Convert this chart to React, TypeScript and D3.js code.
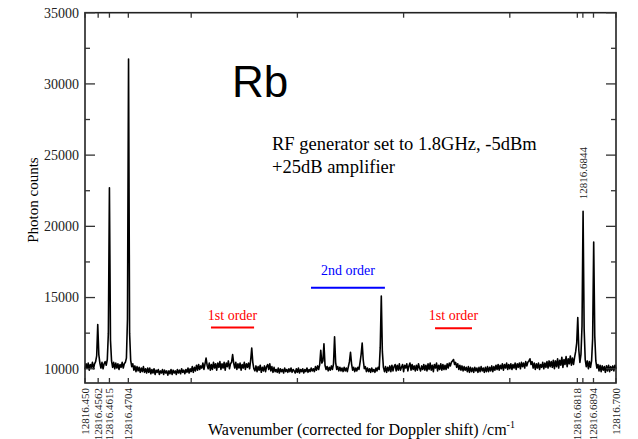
import React from "react";
import * as d3 from "d3";

const W = 638;
const H = 439;

// Wavenumber grid (cm^-1), start and sampling step of the scan
const WN_START = 12816.45;
const WN_STEP = 0.0005;

// Photon counts, one value per grid point
const counts: number[] = [
  9950, 10350, 10050, 10400, 9900, 10300, 10100, 10450, 10000, 10350, 10500, 10900, 13100, 11000, 10400, 10050, 10450, 10000, 10350, 10500,
  10250, 10650, 12500, 22700, 12000, 10550, 10100, 10450, 10000, 10400, 10050, 10350, 9950, 10300, 10100, 10450, 10050, 10350, 10450, 10750,
  13500, 31750, 12500, 10600, 10150, 10350, 9900, 10200, 9800, 10150, 9850, 10100, 9750, 10050, 9800, 10150, 9750, 10000, 9700, 10050,
  9750, 10050, 9650, 9950, 9700, 10000, 9600, 9900, 9750, 9950, 9600, 9850, 9700, 9950, 9600, 9900, 9700, 9850, 9550, 9850,
  9650, 9950, 9600, 9900, 9700, 9850, 9600, 9950, 9700, 9900, 9650, 10000, 9750, 9900, 9650, 9950, 9750, 10050, 9700, 10000,
  9800, 10150, 9750, 10100, 9850, 10250, 9900, 10300, 9950, 10200, 10050, 10400, 9950, 10350, 10750, 10250, 10000, 10400, 9900, 10300,
  9950, 10450, 10050, 10350, 9900, 10400, 10100, 10500, 9950, 10350, 10050, 10450, 9900, 10400, 10150, 10550, 10000, 10350, 10450, 11000,
  10400, 10050, 10450, 9950, 10350, 10050, 10400, 9900, 10300, 10050, 10450, 9950, 10350, 10100, 10400, 10000, 10600, 11450, 10450, 10000,
  9850, 10200, 9800, 10150, 9900, 10250, 9750, 10100, 9850, 10200, 9800, 10150, 10300, 9950, 10350, 9850, 10150, 9750, 10100, 9800,
  9950, 9750, 10050, 9700, 10000, 9800, 9950, 9700, 10050, 9800, 9950, 9750, 10000, 9800, 10050, 9750, 9950, 9850, 9700, 10000,
  9750, 10050, 9700, 9950, 9800, 10000, 9700, 9950, 9800, 10050, 9750, 9950, 9800, 10050, 9850, 10000, 9800, 10150, 9900, 10200,
  9950, 10300, 11300, 10400, 10550, 11750, 10250, 9950, 10150, 9850, 10100, 9900, 10200, 9950, 10350, 12250, 10450, 9950, 10150, 9850,
  10100, 9850, 10050, 9800, 10100, 9850, 10050, 9800, 10150, 10500, 11150, 10350, 9900, 10100, 9800, 10050, 9850, 10100, 9950, 10450,
  11000, 11800, 10600, 10000, 10150, 9800, 10050, 9800, 10000, 9750, 10050, 9800, 9950, 9750, 10050, 9850, 10100, 9950, 11500, 15100,
  11200, 10100, 9800, 10150, 9750, 10100, 9850, 10200, 9800, 10250, 9850, 10150, 10300, 9850, 10250, 9900, 10350, 9900, 10100, 10300,
  9800, 10250, 10050, 10350, 9850, 10200, 10400, 9900, 10300, 9950, 10200, 9850, 10250, 9900, 10350, 10050, 9850, 10200, 9950, 10300,
  9900, 10250, 9850, 10350, 9950, 10400, 9900, 10250, 9800, 10300, 10050, 10400, 9850, 10250, 9950, 10350, 9900, 10300, 9950, 10250,
  9950, 10350, 10050, 10400, 10200, 10450, 10550, 10650, 10300, 10450, 10100, 10350, 9950, 10250, 9900, 10200, 9850, 10150, 9900, 10100,
  9800, 10150, 9750, 10100, 9800, 10050, 9750, 10100, 9850, 10050, 9750, 10100, 9800, 10150, 9850, 10050, 9750, 10100, 9800, 10150,
  9800, 10100, 9850, 10200, 9800, 10150, 9900, 10250, 9950, 10300, 9900, 10250, 10000, 10350, 9900, 10300, 10050, 10400, 9950, 10300,
  10000, 10350, 9950, 10300, 10050, 10400, 9950, 10350, 10100, 10400, 10000, 10450, 10150, 10400, 10050, 10500, 10200, 10450, 10550, 10700,
  10300, 10500, 10050, 10400, 9950, 10350, 10050, 10400, 9950, 10300, 10100, 10450, 10000, 10400, 10100, 10500, 10050, 10550, 10150, 10500,
  10100, 10600, 10000, 10550, 10150, 10700, 10050, 10600, 10250, 10800, 10100, 10650, 10300, 10850, 10150, 10700, 10350, 10900, 10250, 10750,
  10300, 10800, 11200, 11800, 13600, 11300, 10450, 11000, 13000, 21050, 12800, 10650, 10150, 10550, 10000, 10500, 10100, 10550, 12100, 18900,
  12300, 10550, 10050, 10300, 9850, 10250, 9800, 10200, 9900, 10150, 9750, 10200, 9850, 10250, 9800, 10150, 9900, 10200, 9850, 10250, 10000,
];

// Axis settings
const xDomain = [12816.45, 12816.7];
const yDomain = [9000, 35000];
const yMajorTicks = [10000, 15000, 20000, 25000, 30000, 35000];
const yMinorTicks = [12500, 17500, 22500, 27500, 32500];
const xRegularTicks = [12816.45, 12816.5, 12816.55, 12816.6, 12816.65, 12816.7];
const xLineTicks = [12816.4562, 12816.4615, 12816.4704, 12816.6818, 12816.6844, 12816.6894];
const xBottomLabels = ["12816.450", "12816.4562", "12816.4615", "12816.4704", "12816.6818", "12816.6894", "12816.700"];
const xTopLabels = ["12816.6844"];
const xTopLabelCounts = [21900];

// Order annotations: wavenumber span, count level of the bar and label
const orderLabels = ["1st order", "2nd order", "1st order"];
const orderStart = [12816.5093, 12816.5564, 12816.6148];
const orderEnd = [12816.5296, 12816.5912, 12816.6322];
const orderBarLevel = [12900, 15680, 12850];
const orderTextLevel = [13430, 16590, 13430];
const orderColors = ["#ff0000", "#0000ff", "#ff0000"];

const SERIF = "'Liberation Serif', 'Times New Roman', Times, serif";
const SANS = "'Liberation Sans', Arial, Helvetica, sans-serif";

export default function App() {
  const left = 85, right = 616, top = 12.7, bottom = 383;
  const x = d3.scaleLinear().domain(xDomain).range([left, right]);
  const y = d3.scaleLinear().domain(yDomain).range([bottom, top]);

  const pts = counts.map((c, i) => [WN_START + i * WN_STEP, c] as [number, number]);
  const line = d3
    .line<[number, number]>()
    .x((d) => x(d[0]))
    .y((d) => y(d[1]));

  return (
    <svg
      width={W}
      height={H}
      style={{ position: "absolute", left: 0, top: 0, background: "#fff" }}
      fontFamily={SERIF}
    >
      <rect x={0} y={0} width={W} height={H} fill="#fff" />
      {/* data */}
      <path d={line(pts) || ""} fill="none" stroke="#000" strokeWidth={1.6} strokeLinejoin="round" />

      {/* frame */}
      <rect x={left} y={top} width={right - left} height={bottom - top} fill="none" stroke="#222" strokeWidth={1.6} />

      {/* y ticks */}
      {yMajorTicks.map((t) => (
        <g key={"ym" + t}>
          <line x1={left} x2={left + 10} y1={y(t)} y2={y(t)} stroke="#333" strokeWidth={1.3} />
          <line x1={right} x2={right - 10} y1={y(t)} y2={y(t)} stroke="#333" strokeWidth={1.3} />
          <text x={left - 6} y={y(t)} dy="0.35em" textAnchor="end" fontSize={14} fill="#222">
            {t}
          </text>
        </g>
      ))}
      {yMinorTicks.map((t) => (
        <g key={"yn" + t}>
          <line x1={left} x2={left + 5} y1={y(t)} y2={y(t)} stroke="#333" strokeWidth={1.3} />
          <line x1={right} x2={right - 5} y1={y(t)} y2={y(t)} stroke="#333" strokeWidth={1.3} />
        </g>
      ))}

      {/* x ticks */}
      {xRegularTicks.concat(xLineTicks).map((t, i) => (
        <g key={"xt" + i}>
          <line x1={x(t)} x2={x(t)} y1={bottom} y2={bottom - 5} stroke="#333" strokeWidth={1.3} />
          <line x1={x(t)} x2={x(t)} y1={top} y2={top + 5} stroke="#333" strokeWidth={1.3} />
        </g>
      ))}
      {xBottomLabels.map((s) => (
        <text
          key={"xl" + s}
          transform={`translate(${x(+s)},${bottom + 5}) rotate(-90)`}
          dy="0.35em"
          textAnchor="end"
          fontSize={11}
          fill="#222"
        >
          {s}
        </text>
      ))}
      {xTopLabels.map((s, i) => (
        <text
          key={"xtl" + s}
          transform={`translate(${x(+s)},${y(xTopLabelCounts[i])}) rotate(-90)`}
          dy="0.35em"
          textAnchor="start"
          fontSize={11}
          fill="#222"
        >
          {s}
        </text>
      ))}

      {/* order annotations */}
      {orderLabels.map((s, i) => (
        <g key={"o" + i}>
          <line
            x1={x(orderStart[i])}
            x2={x(orderEnd[i])}
            y1={y(orderBarLevel[i])}
            y2={y(orderBarLevel[i])}
            stroke={orderColors[i]}
            strokeWidth={2}
          />
          <text
            x={(x(orderStart[i]) + x(orderEnd[i])) / 2}
            y={y(orderTextLevel[i])}
            textAnchor="middle"
            fontSize={14}
            fill={orderColors[i]}
          >
            {s}
          </text>
        </g>
      ))}

      {/* titles */}
      <text x={232} y={97} fontFamily={SANS} fontSize={44} fill="#000">
        Rb
      </text>
      <text x={272} y={150} fontSize={18.5} fill="#000">
        RF generator set to 1.8GHz, -5dBm
      </text>
      <text x={272} y={173} fontSize={18.5} fill="#000">
        +25dB amplifier
      </text>

      {/* axis titles */}
      <text transform="translate(38,200) rotate(-90)" textAnchor="middle" fontSize={15} fill="#000">
        Photon counts
      </text>
      <text x={208} y={435} fontSize={16} fill="#000">
        Wavenumber (corrected for Doppler shift) /cm
        <tspan dy={-7} fontSize={10}>-1</tspan>
      </text>
    </svg>
  );
}
